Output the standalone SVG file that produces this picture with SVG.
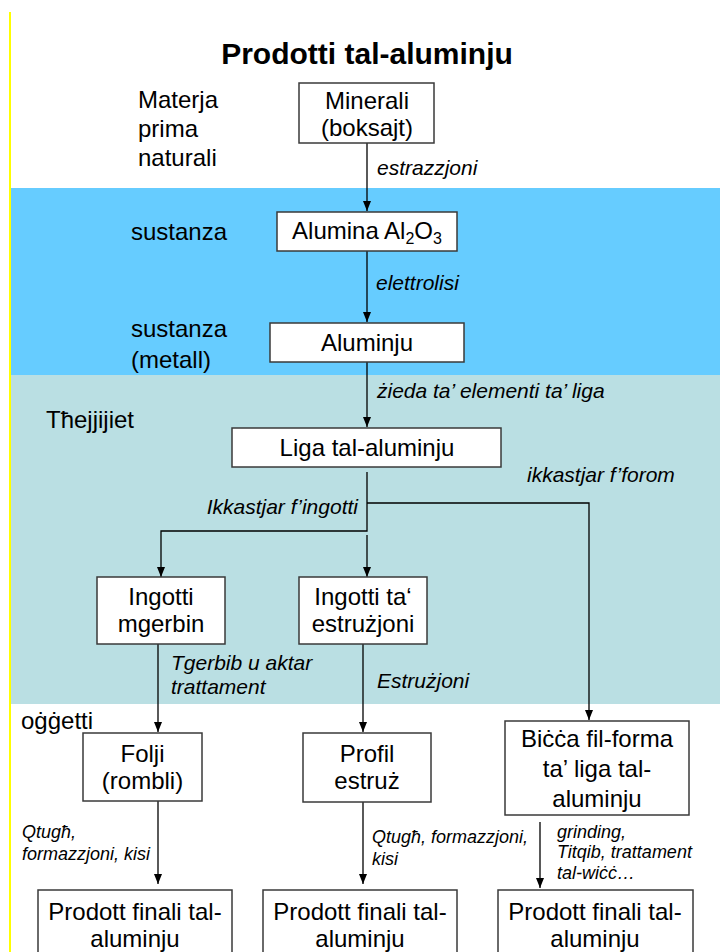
<svg xmlns="http://www.w3.org/2000/svg" width="720" height="952" viewBox="0 0 720 952">
<style>
text{font-family:"Liberation Sans",Arial,sans-serif;fill:#000}
.t{font-size:24px}
.c{text-anchor:middle}
.i{font-style:italic;font-size:21px}
.s{font-style:italic;font-size:18px}
.title{font-size:30px;font-weight:bold;text-anchor:middle}
.box{fill:#fff;stroke:#3a3a3a;stroke-width:1.5}
.con path{fill:none;stroke:#000;stroke-width:1.3;marker-end:url(#ah)}
</style>
<defs>
<marker id="ah" markerUnits="userSpaceOnUse" markerWidth="10" markerHeight="10" viewBox="0 0 10 10" refX="10" refY="5" orient="auto">
<path d="M0,1 L10,5 L0,9 z" fill="#000"/>
</marker>
</defs>
<rect x="0" y="0" width="720" height="952" fill="#fff"/>
<rect x="10" y="188" width="710" height="187" fill="#66CCFF"/>
<rect x="10" y="375" width="710" height="329" fill="#BADFE3"/>
<line x1="10" y1="12" x2="10" y2="952" stroke="#FFFF00" stroke-width="2"/>

<text class="title" x="367" y="64">Prodotti tal-aluminju</text>

<g id="labels">
<text class="t" x="138" y="108">Materja</text>
<text class="t" x="138" y="137">prima</text>
<text class="t" x="138" y="166">naturali</text>
<text class="t" x="131" y="240">sustanza</text>
<text class="t" x="131" y="337">sustanza</text>
<text class="t" x="131" y="368">(metall)</text>
<text class="t" x="46" y="428">Tħejjijiet</text>
<text class="t" x="21" y="729">oġġetti</text>
</g>

<g class="con" id="connectors">
<path d="M367,143 V211"/>
<path d="M367,251 V322"/>
<path d="M367,362 V427"/>
<path d="M367,472 V531 H161 V577" style="marker-end:url(#ah)"/>
<path d="M367,503 H589 V720"/>
<path d="M367,535 V577"/>
<path d="M158,644 V732"/>
<path d="M363,644 V732"/>
<path d="M158,801 V884"/>
<path d="M363,802 V884"/>
<path d="M540,822 V888"/>
</g>

<g id="edge-labels">
<text class="i" x="377" y="175">estrazzjoni</text>
<text class="i" x="376" y="290">elettrolisi</text>
<text class="i" x="377" y="398">żieda ta’ elementi ta’ liga</text>
<text class="i" x="527" y="482">ikkastjar f’forom</text>
<text class="i" x="358" y="514" text-anchor="end">Ikkastjar f’ingotti</text>
<text class="i" x="171" y="670">Tgerbib u aktar</text>
<text class="i" x="171" y="694">trattament</text>
<text class="i" x="377" y="688">Estrużjoni</text>
<text class="s" x="22" y="838">Qtugħ,</text>
<text class="s" x="22" y="860">formazzjoni, kisi</text>
<text class="s" x="372" y="843">Qtugħ, formazzjoni,</text>
<text class="s" x="372" y="865">kisi</text>
<text class="s" x="557" y="838">grinding,</text>
<text class="s" x="557" y="858">Titqib, trattament</text>
<text class="s" x="557" y="879">tal-wiċċ…</text>
</g>

<g id="minerali">
<rect class="box" x="299" y="83" width="135" height="60"/>
<text class="t c" x="367" y="109">Minerali</text>
<text class="t c" x="367" y="136">(boksajt)</text>
</g>
<g id="alumina">
<rect class="box" x="277" y="212" width="180" height="39"/>
<text class="t c" x="367" y="239">Alumina Al<tspan font-size="16" dy="5">2</tspan><tspan dy="-5">O</tspan><tspan font-size="16" dy="5">3</tspan></text>
</g>
<g id="aluminju">
<rect class="box" x="270" y="323" width="194" height="39"/>
<text class="t c" x="367" y="351">Aluminju</text>
</g>
<g id="liga">
<rect class="box" x="232" y="428" width="269" height="39"/>
<text class="t c" x="367" y="456">Liga tal-aluminju</text>
</g>
<g id="ingotti-mgerbin">
<rect class="box" x="97" y="577" width="128" height="67"/>
<text class="t c" x="161" y="605">Ingotti</text>
<text class="t c" x="161" y="632">mgerbin</text>
</g>
<g id="ingotti-estruzjoni">
<rect class="box" x="299" y="577" width="128" height="67"/>
<text class="t c" x="363" y="605">Ingotti ta‘</text>
<text class="t c" x="363" y="632">estrużjoni</text>
</g>
<g id="folji">
<rect class="box" x="83" y="733" width="119" height="68"/>
<text class="t c" x="142.5" y="762">Folji</text>
<text class="t c" x="142.5" y="789">(rombli)</text>
</g>
<g id="profil">
<rect class="box" x="303" y="733" width="128" height="69"/>
<text class="t c" x="367" y="762">Profil</text>
<text class="t c" x="367" y="789">estruż</text>
</g>
<g id="bicca">
<rect class="box" x="505" y="721" width="184" height="94"/>
<text class="t c" x="597" y="747">Biċċa fil-forma</text>
<text class="t c" x="597" y="777">ta’ liga tal-</text>
<text class="t c" x="597" y="807">aluminju</text>
</g>
<g id="final-1">
<rect class="box" x="38" y="890" width="194" height="80"/>
<text class="t c" x="135" y="920">Prodott finali tal-</text>
<text class="t c" x="135" y="947">aluminju</text>
</g>
<g id="final-2">
<rect class="box" x="263" y="890" width="194" height="80"/>
<text class="t c" x="360" y="920">Prodott finali tal-</text>
<text class="t c" x="360" y="947">aluminju</text>
</g>
<g id="final-3">
<rect class="box" x="498" y="890" width="195" height="80"/>
<text class="t c" x="595" y="920">Prodott finali tal-</text>
<text class="t c" x="595" y="947">aluminju</text>
</g>
</svg>
